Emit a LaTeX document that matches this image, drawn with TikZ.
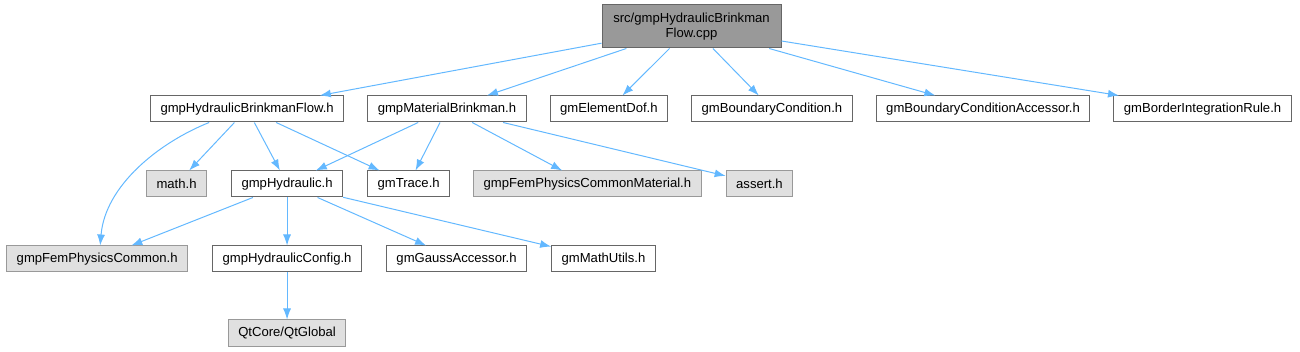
\documentclass[tikz,border=0pt]{standalone}
\usepackage{fontspec}
\setmainfont{Liberation Sans}
\definecolor{dgEdge}{HTML}{63B8FF}
\definecolor{dgBorder}{HTML}{666666}
\definecolor{dgSysBorder}{HTML}{999999}
\definecolor{dgSysFill}{HTML}{E0E0E0}
\definecolor{dgRootFill}{HTML}{999999}
\usetikzlibrary{arrows.meta, positioning}

\begin{document}
\begin{tikzpicture}[
  x=1pt, y=-1pt,
  font=\fontsize{13.1}{15.3}\selectfont,
  file/.style={draw=dgBorder, line width=1pt, fill=white, minimum height=26pt, inner xsep=10pt, inner ysep=0pt, anchor=west},
  sysfile/.style={file, draw=dgSysBorder, fill=dgSysFill},
  rootfile/.style={file, fill=dgRootFill, align=center, minimum width=179pt, minimum height=43pt, anchor=center},
  edge/.style={draw=dgEdge, line width=1pt, -{Latex[length=11pt, width=8pt]}},
]
  \useasboundingbox (0,0) rectangle (1300,352);

  \node[rootfile] (root) at (691.5,26.5) {src/gmpHydraulicBrinkman\\Flow.cpp};

  % direct includes
  \node[file] (hbf) at (150,109) {gmpHydraulicBrinkmanFlow.h};
  \node[file, right=23pt of hbf] (mb) {gmpMaterialBrinkman.h};
  \node[file, right=23pt of mb] (ed) {gmElementDof.h};
  \node[file, right=23pt of ed] (bc) {gmBoundaryCondition.h};
  \node[file, right=23pt of bc] (bca) {gmBoundaryConditionAccessor.h};
  \node[file, right=23pt of bca, minimum width=176pt] (bir) {gmBorderIntegrationRule.h};

  % second level
  \node[sysfile] (math) at (146,184) {math.h};
  \node[file, right=24pt of math] (hyd) {gmpHydraulic.h};
  \node[file, right=24pt of hyd] (trace) {gmTrace.h};
  \node[sysfile, right=23pt of trace] (femmat) {gmpFemPhysicsCommonMaterial.h};
  \node[sysfile, right=24pt of femmat] (assert) {assert.h};

  % third level
  \node[file, below=48pt of hyd] (cfg) {gmpHydraulicConfig.h};
  \node[sysfile, left=24pt of cfg] (femcom) {gmpFemPhysicsCommon.h};
  \node[file, right=24pt of cfg] (gauss) {gmGaussAccessor.h};
  \node[file, right=24pt of gauss] (mutil) {gmMathUtils.h};

  \node[sysfile, below=47pt of cfg] (qt) {QtCore/QtGlobal};

  \foreach \t in {hbf, mb, ed, bc, bca, bir}
    \draw[edge] (root) -- (\t);

  \draw[edge] ([xshift=-38pt]hbf.south) .. controls +(-50,20) and +(5,-60) .. ([xshift=3pt]femcom.north);
  \foreach \t in {math, hyd, trace}
    \draw[edge] (hbf) -- (\t);
  \foreach \t in {hyd, trace, femmat, assert}
    \draw[edge] (mb) -- (\t);
  \foreach \t in {femcom, cfg, gauss, mutil}
    \draw[edge] (hyd) -- (\t);
  \draw[edge] (cfg) -- (qt);
\end{tikzpicture}
\end{document}
